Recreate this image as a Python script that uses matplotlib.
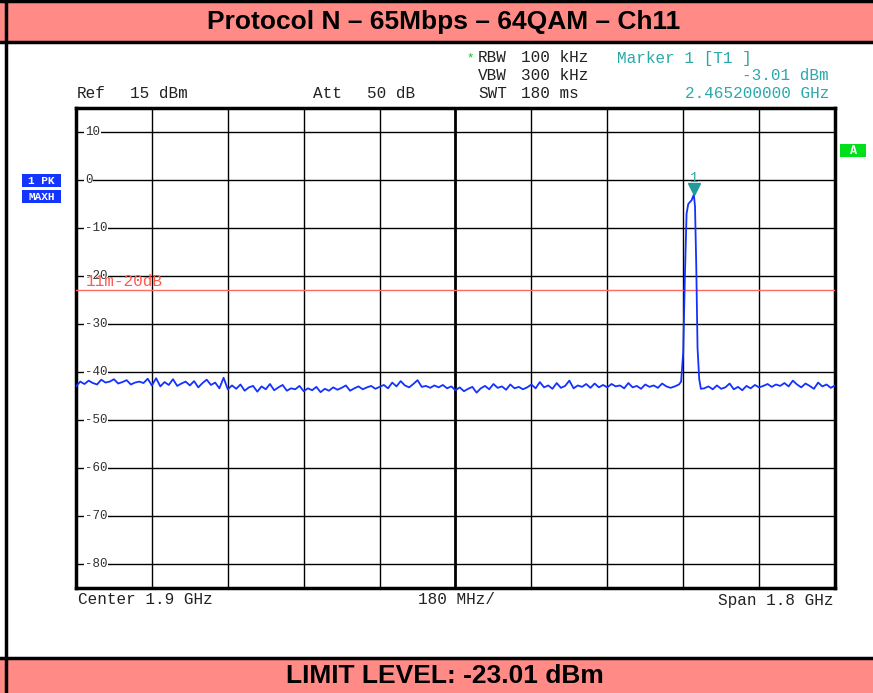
import numpy as np
import matplotlib
matplotlib.use("Agg")
import matplotlib.pyplot as plt
import matplotlib.transforms as mtransforms
from matplotlib.patches import Rectangle
from matplotlib.lines import Line2D

# ---------------- data ----------------
title = "Protocol N \u2013 65Mbps \u2013 64QAM \u2013 Ch11"
footer = "LIMIT LEVEL: -23.01 dBm"
f_start, f_stop = 1.0, 2.8          # GHz (center 1.9, span 1.8)
ref_level, bottom_level = 15, -85   # dBm
y_ticks = [10, 0, -10, -20, -30, -40, -50, -60, -70, -80]
y_tick_labels = ["10", "0", "-10", "-20", "-30", "-40", "-50", "-60", "-70", "-80"]
limit_dbm = -23.01
limit_label = "11m-20dB"
marker_freq = 2.4652
marker_level = -3.01

# noise floor left of carrier, 1.00 .. 2.43 GHz, 0.01 GHz steps
noise_left = [
    -43.0, -42.0, -42.5, -41.8, -42.3, -42.6, -41.6, -42.2, -42.0, -41.5, -42.4, -42.1, -41.7, -42.6, -42.2, -42.0, -42.3, -41.4,
    -42.8, -41.3, -43.0, -42.1, -42.7, -41.5, -42.9, -42.4, -42.0, -42.8, -41.9, -43.2, -42.3, -41.6, -42.7, -42.2, -43.4, -41.2,
    -43.6, -42.8, -43.5, -42.6, -43.9, -43.2, -42.9, -44.1, -43.0, -43.6, -42.5, -43.8, -43.2, -42.7, -43.9, -43.4, -43.6, -42.9,
    -44.0, -43.4, -43.8, -43.1, -44.2, -43.5, -43.9, -43.2, -43.7, -43.3, -42.8, -43.9, -43.4, -43.0, -43.6, -43.2, -42.9, -43.5,
    -43.1, -42.7, -43.4, -42.2, -43.0, -41.9, -42.8, -43.2, -42.5, -41.7, -43.1, -42.9, -43.3, -42.8, -43.2, -42.7, -43.4, -43.0,
    -43.8, -43.2, -44.0, -43.5, -43.1, -44.3, -43.4, -42.9, -43.6, -42.5, -43.3, -43.0, -43.7, -42.6, -43.4, -43.1, -43.6, -43.2,
    -42.6, -43.4, -42.1, -43.2, -42.8, -43.5, -42.3, -43.3, -42.9, -41.8, -43.4, -42.8, -43.1, -42.5, -43.3, -42.4, -43.2, -42.7,
    -43.2, -42.5, -43.0, -42.8, -43.4, -42.3, -43.2, -42.9, -43.5, -42.6, -43.1, -42.8, -43.3, -42.4, -43.0, -43.3, -43.0, -42.6,
]
noise_left_start, noise_left_stop = 1.00, 2.43

# carrier
peak_freq = [2.435, 2.440, 2.444, 2.448, 2.452, 2.456, 2.460, 2.4652, 2.468, 2.471, 2.474, 2.478, 2.482]
peak_level = [-42.0, -36.0, -20.0, -7.0, -5.0, -4.6, -4.2, -3.01, -5.5, -18.0, -35.0, -41.5, -43.5]

# noise floor right of carrier, 2.49 .. 2.80 GHz
noise_right = [
    -43.4, -43.0, -43.6, -42.8, -43.5, -43.2, -42.4, -43.6, -43.1, -43.8, -42.9, -43.4, -42.7, -43.2, -42.9, -42.5,
    -43.1, -42.6, -42.9, -42.3, -43.0, -41.8, -42.6, -43.2, -42.4, -42.9, -43.5, -42.2, -43.0, -42.6, -43.3, -42.8,
]
noise_right_start, noise_right_stop = 2.49, 2.80

# ---------------- figure ----------------
W, H = 873, 693
fig = plt.figure(figsize=(W / 100, H / 100), dpi=100)
fig.patch.set_facecolor("white")

def fx(px):
    return px / W

def fy(py):
    return 1 - py / H

band_color = "#ff8a86"
fig.add_artist(Rectangle((0, fy(41)), 1, fy(0) - fy(41), transform=fig.transFigure,
                         facecolor=band_color, edgecolor="none", zorder=0))
fig.add_artist(Rectangle((0, 0), 1, fy(658), transform=fig.transFigure,
                         facecolor=band_color, edgecolor="none", zorder=0))
for (x0, y0, x1, y1, lw) in [
    (0, 1, W, 1, 2.5), (0, 41.5, W, 41.5, 2.5), (0, 657.5, W, 657.5, 2.5), (6, 0, 6, H, 2.5),
]:
    fig.add_artist(Line2D([fx(x0), fx(x1)], [fy(y0), fy(y1)], transform=fig.transFigure,
                          color="black", lw=lw, zorder=1))

fig.text(fx(444), fy(22), title, ha="center", va="center", fontsize=19,
         fontweight="bold", family="Liberation Sans", color="black")
fig.text(fx(445), fy(676), footer, ha="center", va="center", fontsize=19,
         fontweight="bold", family="Liberation Sans", color="black")

# ---------------- axes ----------------
ax = fig.add_axes([fx(76), fy(588), (835 - 76) / W, (588 - 108) / H])
ax.set_xlim(f_start, f_stop)
ax.set_ylim(bottom_level, ref_level)
ax.set_xticks([])
ax.set_yticks([])
for s in ax.spines.values():
    s.set_linewidth(2.5)
    s.set_color("black")

for k in range(1, 10):
    xv = f_start + k * (f_stop - f_start) / 10
    ax.axvline(xv, color="black", lw=2.0 if k == 5 else 1.0, zorder=1)
for yv in y_ticks:
    ax.axhline(yv, color="black", lw=1.0, zorder=1)

mono = "Liberation Mono"
blend = mtransforms.blended_transform_factory(ax.transAxes, ax.transData)
for yv, lab in zip(y_ticks, y_tick_labels):
    ax.text(9 / 759, yv, lab, transform=blend, ha="left", va="center", fontsize=9,
            family=mono, color="#333333", zorder=2,
            bbox=dict(facecolor="white", edgecolor="none", pad=0.6))

# limit line
ax.axhline(limit_dbm, color="#ff6a5e", lw=1.0, zorder=3)
ax.text(10 / 759, limit_dbm + 0.3, limit_label, transform=blend, ha="left", va="bottom",
        fontsize=11.5, family=mono, color="#ff5a50", zorder=4)

# trace
f_left = np.linspace(noise_left_start, noise_left_stop, len(noise_left))
f_right = np.linspace(noise_right_start, noise_right_stop, len(noise_right))
freq = np.concatenate([f_left, np.array(peak_freq), f_right])
level = np.concatenate([np.array(noise_left), np.array(peak_level), np.array(noise_right)])
ax.plot(freq, level, color="#1432ff", lw=1.3, zorder=5)

# marker
teal = "#2aa9a9"
mtrans = mtransforms.offset_copy(ax.transData, fig=fig, x=0, y=5, units="dots")
ax.plot([marker_freq], [marker_level], marker="v", markersize=8, color="#209a9a",
        transform=mtrans, zorder=6, clip_on=False)
ax.text(marker_freq, marker_level, "1",
        transform=mtransforms.offset_copy(ax.transData, fig=fig, x=0, y=16, units="dots"),
        ha="center", va="center", fontsize=10, family=mono, color=teal, zorder=6)

# ---------------- instrument annotations ----------------
tc = "#222222"
fs = 11.5
fig.text(fx(77), fy(93), "Ref", ha="left", va="center", fontsize=fs, family=mono, color=tc)
fig.text(fx(130), fy(93), "15 dBm", ha="left", va="center", fontsize=fs, family=mono, color=tc)
fig.text(fx(313), fy(93), "Att", ha="left", va="center", fontsize=fs, family=mono, color=tc)
fig.text(fx(367), fy(93), "50 dB", ha="left", va="center", fontsize=fs, family=mono, color=tc)

fig.text(fx(470), fy(58), "*", ha="center", va="center", fontsize=9, family=mono, color="#00cc00")
for row_y, name, val in [(58, "RBW", "100 kHz"), (75, "VBW", "300 kHz"), (93, "SWT", "180 ms")]:
    fig.text(fx(478), fy(row_y), name, ha="left", va="center", fontsize=fs, family=mono, color=tc)
    fig.text(fx(521), fy(row_y), val, ha="left", va="center", fontsize=fs, family=mono, color=tc)

fig.text(fx(617), fy(58), "Marker 1 [T1 ]", ha="left", va="center", fontsize=fs, family=mono, color=teal)
fig.text(fx(829), fy(75), "-3.01 dBm", ha="right", va="center", fontsize=fs, family=mono, color=teal)
fig.text(fx(829), fy(93), "2.465200000 GHz", ha="right", va="center", fontsize=fs, family=mono, color=teal)

fig.text(fx(78), fy(600), "Center 1.9 GHz", ha="left", va="center", fontsize=fs, family=mono, color=tc)
fig.text(fx(456), fy(600), "180 MHz/", ha="center", va="center", fontsize=fs, family=mono, color=tc)
fig.text(fx(833), fy(600), "Span 1.8 GHz", ha="right", va="center", fontsize=fs, family=mono, color=tc)

# side boxes
blue = "#1434ff"
fig.add_artist(Rectangle((fx(22), fy(187)), (61 - 22) / W, 13 / H, transform=fig.transFigure,
                         facecolor=blue, edgecolor="none"))
fig.add_artist(Rectangle((fx(22), fy(203)), (61 - 22) / W, 13 / H, transform=fig.transFigure,
                         facecolor=blue, edgecolor="none"))
fig.text(fx(41.5), fy(180.5), "1 PK", ha="center", va="center", fontsize=8, family=mono,
         fontweight="bold", color="white")
fig.text(fx(41.5), fy(196.5), "MAXH", ha="center", va="center", fontsize=8, family=mono,
         fontweight="bold", color="white")
fig.add_artist(Rectangle((fx(840), fy(157)), 26 / W, 13 / H, transform=fig.transFigure,
                         facecolor="#00e01a", edgecolor="none"))
fig.text(fx(853), fy(150.5), "A", ha="center", va="center", fontsize=8.5, family=mono,
         fontweight="bold", color="white")

fig.savefig("out.png", dpi=100, facecolor=fig.get_facecolor())
